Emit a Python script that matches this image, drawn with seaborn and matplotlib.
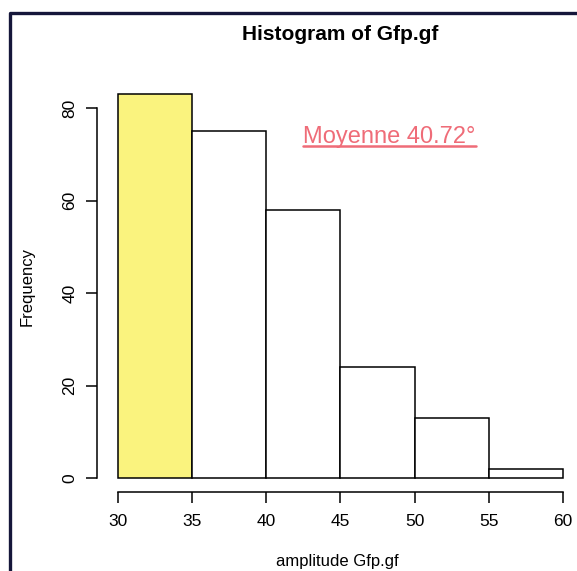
import matplotlib
matplotlib.use("Agg")
import matplotlib.pyplot as plt
import seaborn as sns
import numpy as np
from matplotlib.lines import Line2D

# Histogram counts of Gfp.gf amplitudes (5-degree bins)
bin_edges = [30, 35, 40, 45, 50, 55, 60]
counts = [83, 75, 58, 24, 13, 2]
x_ticks = [30, 35, 40, 45, 50, 55, 60]
y_ticks = [0, 20, 40, 60, 80]
mean_label = "Moyenne 40.72°"

sns.set_theme(style="white")
plt.rcParams["font.family"] = ["Liberation Sans", "DejaVu Sans"]

fig = plt.figure(figsize=(5.77, 5.71), dpi=100)
ax = fig.add_axes([97 / 577, 1 - 492 / 571, (577 - 97) / 577, (492 - 80) / 571])

mids = [(a + b) / 2 for a, b in zip(bin_edges[:-1], bin_edges[1:])]
sns.histplot(x=mids, weights=counts, bins=bin_edges, ax=ax,
             color="white", edgecolor="black", linewidth=1.1, alpha=1)
# highlight the first class
ax.patches[0].set_facecolor("#faf37e")

ax.set_xlim(28.6, 60.95)
ax.set_ylim(-3.0, 86.1)

for s in ["top", "right"]:
    ax.spines[s].set_visible(False)
ax.spines["left"].set_bounds(0, 80)
ax.spines["bottom"].set_bounds(30, 60)
for s in ["left", "bottom"]:
    ax.spines[s].set_color("black")
    ax.spines[s].set_linewidth(1.1)

ax.set_xticks(x_ticks)
ax.set_yticks(y_ticks)
ax.tick_params(axis="both", direction="out", length=8, width=1.1,
               color="black", labelsize=12.5, labelcolor="black", pad=8)
ax.tick_params(axis="y", pad=6)
ax.tick_params(axis="both", which="both", left=True, bottom=True)
for lab in ax.get_yticklabels():
    lab.set_rotation(90)
    lab.set_va("center")

ax.set_xlabel("amplitude Gfp.gf", fontsize=12, color="black", labelpad=18)
ax.set_ylabel("Frequency", fontsize=12, color="black", labelpad=20)
ax.grid(False)

fig.text(340 / 577, 1 - 35 / 571, "Histogram of Gfp.gf", ha="center",
         va="center", fontsize=15, fontweight="bold", color="black")

# mean annotation, underlined
txt = ax.text(42.5, 73.8, mean_label, color="#ef6c78", fontsize=17,
              ha="left", va="center")
fig.canvas.draw()
bb = txt.get_window_extent(renderer=fig.canvas.get_renderer())
inv = fig.transFigure.inverted()
(x0, y0), (x1, _) = inv.transform([(bb.x0, bb.y0), (bb.x1, bb.y0)])
fig.add_artist(Line2D([x0, x1], [y0 + 0.004, y0 + 0.004],
                      transform=fig.transFigure, color="#ef6c78", lw=1.8))

# page frame
fig.add_artist(Line2D([10 / 577, 10 / 577, 1.0], [0.0, 1 - 13 / 571, 1 - 13 / 571],
                      transform=fig.transFigure, color="#15163a", lw=2.4))

fig.savefig("out.png", dpi=100, facecolor="white")
